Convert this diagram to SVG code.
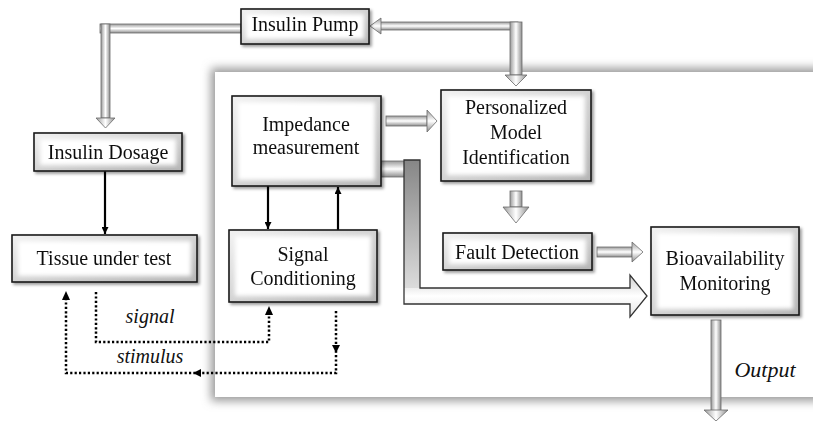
<svg xmlns="http://www.w3.org/2000/svg" width="813" height="421" viewBox="0 0 813 421">
<style>
.t{font-family:"Liberation Serif",serif;font-size:20px;text-anchor:middle;fill:#111}
.it{font-family:"Liberation Serif",serif;font-size:20px;font-style:italic;text-anchor:middle;fill:#111}
.box{fill:url(#bevel);stroke:#1a1a1a;stroke-width:1.6}
.inner{fill:#fff;filter:url(#soft)}
.ph{fill:url(#pipeH);stroke:#6a6a6a;stroke-width:0.8}
.pv{fill:url(#pipeV);stroke:#6a6a6a;stroke-width:0.8}
.solid{stroke:#000;stroke-width:2.2;fill:none}
.dot{stroke:#000;stroke-width:2.5;fill:none;stroke-dasharray:2.2 2.2}
.ah{fill:#000}
</style>
<defs>
<linearGradient id="pipeH" x1="0" y1="0" x2="0" y2="1">
<stop offset="0" stop-color="#9a9a9a"/><stop offset="0.5" stop-color="#ffffff"/><stop offset="1" stop-color="#8e8e8e"/>
</linearGradient>
<linearGradient id="pipeV" x1="0" y1="0" x2="1" y2="0">
<stop offset="0" stop-color="#9a9a9a"/><stop offset="0.5" stop-color="#ffffff"/><stop offset="1" stop-color="#8e8e8e"/>
</linearGradient>
<linearGradient id="darkV" x1="0" y1="0" x2="0" y2="1">
<stop offset="0" stop-color="#868686"/><stop offset="1" stop-color="#e6e6e6"/>
</linearGradient>
<linearGradient id="lightH" x1="0" y1="0" x2="0" y2="1">
<stop offset="0" stop-color="#d0d0d0"/><stop offset="0.5" stop-color="#ffffff"/><stop offset="1" stop-color="#e4e4e4"/>
</linearGradient>
<linearGradient id="bevel" x1="0" y1="0" x2="1" y2="1">
<stop offset="0" stop-color="#f2f2f2"/><stop offset="1" stop-color="#b4b4b4"/>
</linearGradient>
<filter id="soft" x="-10%" y="-10%" width="120%" height="120%"><feGaussianBlur stdDeviation="2"/></filter>
<filter id="blur5" x="-10%" y="-20%" width="120%" height="140%"><feGaussianBlur stdDeviation="5"/></filter>
<filter id="shadow" x="-10%" y="-10%" width="130%" height="130%"><feDropShadow dx="2" dy="2" stdDeviation="1.5" flood-color="#000" flood-opacity="0.4"/></filter>
<marker id="arr" viewBox="0 0 10 10" refX="10" refY="5" markerWidth="8" markerHeight="7" markerUnits="userSpaceOnUse" orient="auto">
<path d="M0,0 L10,5 L0,10 z" fill="#000"/>
</marker>
</defs>

<g id="panel">
<rect x="211" y="68" width="640" height="333" fill="#999" filter="url(#blur5)"/>
<rect x="215" y="72" width="620" height="325" fill="#fff"/>
</g>

<g id="connectors">
<rect class="ph" x="100" y="24" width="141" height="9"/>
<rect class="pv" x="101" y="24" width="9" height="94"/>
<polygon class="pv" points="96,118 115,118 105.5,128"/>
<rect class="ph" x="380" y="22" width="138" height="8"/>
<polygon class="ph" points="381,18 381,34 370,26"/>
<rect class="pv" x="510" y="22" width="12" height="53"/>
<polygon class="pv" points="505,75 527,75 516,86"/>
<rect class="ph" x="386" y="116" width="41" height="10"/>
<polygon class="ph" points="427,110 427,132 437,121"/>
<rect class="ph" x="381" y="161" width="24" height="16"/>
<rect x="404" y="160" width="16" height="144" fill="url(#darkV)"/>
<polygon points="420,288 630,288 630,275 647,296 630,317 630,304 404,304 404,288" fill="url(#lightH)"/>
<path d="M404,160 H420 V288 H630 V275 L647,296 L630,317 V304 H404 Z" fill="none" stroke="#333" stroke-width="1.3"/>
<rect class="pv" x="510" y="191" width="12" height="16"/>
<polygon class="pv" points="503,207 529,207 516,223"/>
<rect class="ph" x="597" y="247" width="35" height="10"/>
<polygon class="ph" points="632,242 632,262 643,252"/>
<rect class="pv" x="711" y="320" width="10" height="91"/>
<polygon class="pv" points="704,410 728,410 716,421"/>
<line class="solid" x1="105" y1="171" x2="105" y2="234" marker-end="url(#arr)"/>
<line class="solid" x1="268" y1="186" x2="268" y2="229" marker-end="url(#arr)"/>
<line class="solid" x1="338" y1="230" x2="338" y2="187" marker-end="url(#arr)"/>
<path class="dot" d="M96,292 V342 H269 V314"/>
<polygon class="ah" points="265,315 273,315 269,306"/>
<path class="dot" d="M336,311 V373 H66 V300"/>
<polygon class="ah" points="332,345 340,345 336,353"/>
<polygon class="ah" points="201,369 201,377 193,373"/>
<polygon class="ah" points="62,300 70,300 66,291"/>
<text class="it" x="150" y="323">signal</text>
<text class="it" x="150" y="363">stimulus</text>
<text class="it" x="765" y="377" style="font-size:22px">Output</text>
</g>

<g id="insulin-pump" filter="url(#shadow)">
<rect class="box" x="241" y="9" width="128" height="35"/>
<rect class="inner" x="246" y="14" width="118" height="25"/>
<text class="t" x="305" y="31">Insulin Pump</text>
</g>

<g id="insulin-dosage" filter="url(#shadow)">
<rect class="box" x="34" y="133" width="148" height="38"/>
<rect class="inner" x="40" y="139" width="136" height="26"/>
<text class="t" x="108" y="159">Insulin Dosage</text>
</g>

<g id="tissue" filter="url(#shadow)">
<rect class="box" x="12" y="235" width="185" height="47"/>
<rect class="inner" x="18" y="241" width="173" height="35"/>
<text class="t" x="104" y="265">Tissue under test</text>
</g>

<g id="impedance" filter="url(#shadow)">
<rect class="box" x="232" y="96" width="149" height="90"/>
<rect class="inner" x="238" y="102" width="137" height="78"/>
<text class="t" x="306" y="131">Impedance</text>
<text class="t" x="306" y="154">measurement</text>
</g>

<g id="signal-conditioning" filter="url(#shadow)">
<rect class="box" x="229" y="230" width="148" height="72"/>
<rect class="inner" x="235" y="236" width="136" height="60"/>
<text class="t" x="303" y="261">Signal</text>
<text class="t" x="303" y="285">Conditioning</text>
</g>

<g id="personalized" filter="url(#shadow)">
<rect class="box" x="441" y="90" width="150" height="91"/>
<rect class="inner" x="447" y="96" width="138" height="79"/>
<text class="t" x="516" y="114">Personalized</text>
<text class="t" x="516" y="139">Model</text>
<text class="t" x="516" y="164">Identification</text>
</g>

<g id="fault-detection" filter="url(#shadow)">
<rect class="box" x="443" y="233" width="149" height="37"/>
<rect class="inner" x="449" y="239" width="137" height="25"/>
<text class="t" x="517" y="259">Fault Detection</text>
</g>

<g id="bioavailability" filter="url(#shadow)">
<rect class="box" x="651" y="227" width="148" height="88"/>
<rect class="inner" x="657" y="233" width="136" height="76"/>
<text class="t" x="725" y="265">Bioavailability</text>
<text class="t" x="725" y="290">Monitoring</text>
</g>
</svg>
